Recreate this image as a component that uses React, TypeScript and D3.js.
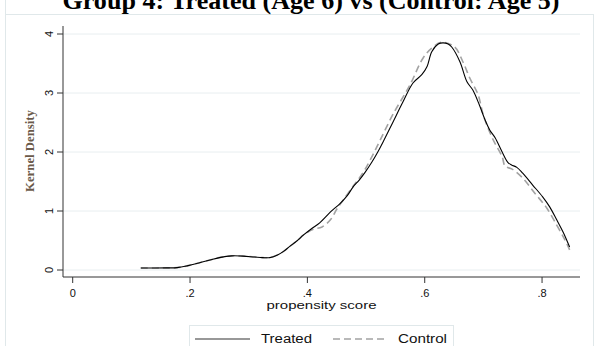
import React from "react";
import * as d3 from "d3";

const xTicks = [0, 0.2, 0.4, 0.6, 0.8];
const xTickLabels = ["0", ".2", ".4", ".6", ".8"];
const yTicks = [0, 1, 2, 3, 4];

const treatedX = [0.116, 0.14, 0.16, 0.178, 0.195, 0.215, 0.234, 0.25, 0.271, 0.29, 0.31, 0.324, 0.336, 0.35, 0.36, 0.37, 0.383, 0.393, 0.407, 0.421, 0.439, 0.456, 0.468, 0.478, 0.488, 0.498, 0.51, 0.52, 0.529, 0.546, 0.563, 0.58, 0.595, 0.604, 0.612, 0.623, 0.631, 0.64, 0.646, 0.66, 0.672, 0.682, 0.693, 0.703, 0.711, 0.72, 0.732, 0.742, 0.748, 0.757, 0.767, 0.784, 0.801, 0.813, 0.825, 0.836, 0.847];
const treatedY = [0.035, 0.035, 0.036, 0.04, 0.07, 0.12, 0.17, 0.21, 0.24, 0.235, 0.22, 0.21, 0.21, 0.26, 0.32, 0.4, 0.5, 0.59, 0.7, 0.8, 0.98, 1.13, 1.26, 1.41, 1.52, 1.65, 1.83, 2.0, 2.17, 2.51, 2.85, 3.17, 3.31, 3.45, 3.7, 3.83, 3.85, 3.83, 3.78, 3.53, 3.19, 3.05, 2.8, 2.54, 2.37, 2.24, 2.0, 1.82, 1.78, 1.74, 1.64, 1.44, 1.24, 1.07, 0.85, 0.64, 0.39];

const controlX = [0.116, 0.14, 0.16, 0.178, 0.195, 0.215, 0.234, 0.25, 0.271, 0.29, 0.31, 0.324, 0.336, 0.35, 0.36, 0.37, 0.383, 0.393, 0.41, 0.425, 0.44, 0.45, 0.46, 0.478, 0.488, 0.498, 0.51, 0.524, 0.546, 0.575, 0.597, 0.612, 0.629, 0.651, 0.665, 0.677, 0.691, 0.70, 0.716, 0.732, 0.737, 0.749, 0.767, 0.787, 0.808, 0.825, 0.839, 0.847];
const controlY = [0.035, 0.035, 0.036, 0.04, 0.07, 0.12, 0.17, 0.21, 0.24, 0.235, 0.22, 0.21, 0.21, 0.26, 0.32, 0.4, 0.5, 0.59, 0.69, 0.73, 0.86, 1.03, 1.17, 1.42, 1.55, 1.7, 1.92, 2.2, 2.64, 3.14, 3.59, 3.76, 3.86, 3.78, 3.53, 3.25, 2.97, 2.62, 2.22, 1.92, 1.76, 1.71, 1.56, 1.31, 1.05, 0.76, 0.51, 0.34];

const title = "Group 4: Treated  (Age 6) vs (Control: Age 5)";
const xLabel = "propensity score";
const yLabel = "Kernel Density";
const seriesNames = ["Treated", "Control"];

export default function App() {
  const x = d3.scaleLinear().domain([0, 0.8]).range([72.7, 72.7 + 0.8 * 586.7]);
  const y = d3.scaleLinear().domain([0, 4]).range([270, 34]);
  const plotLeft = 63;
  const plotRight = 580;
  const axisY = 277;

  const line = d3
    .line<[number, number]>()
    .x((d) => x(d[0]))
    .y((d) => y(d[1]))
    .curve(d3.curveCatmullRom.alpha(0.5));

  const treated = treatedX.map((v, i) => [v, treatedY[i]] as [number, number]);
  const control = controlX.map((v, i) => [v, controlY[i]] as [number, number]);

  const sans = "'Liberation Sans', Arial, sans-serif";
  const serif = "'Liberation Serif', 'Times New Roman', serif";

  return (
    <svg
      width={595}
      height={346}
      style={{ position: "absolute", left: 0, top: 0, background: "#fff" }}
    >
      <rect x={0} y={0} width={595} height={346} fill="#fff" />
      {/* outer frame */}
      <line x1={5.5} x2={5.5} y1={0} y2={346} stroke="#e0e8ea" strokeWidth={1} />
      <rect x={5.5} y={14.5} width={588} height={345} fill="none" stroke="#e0e8ea" strokeWidth={1} />

      {/* title */}
      <text
        x={311}
        y={9}
        textAnchor="middle"
        fontFamily={serif}
        fontWeight="bold"
        fontSize={25}
        textLength={497}
        lengthAdjust="spacingAndGlyphs"
        fill="#000"
      >
        {title}
      </text>

      {/* gridlines */}
      {yTicks.map((t) => (
        <line
          key={"g" + t}
          x1={plotLeft}
          x2={plotRight}
          y1={y(t)}
          y2={y(t)}
          stroke="#e8eef0"
          strokeWidth={1}
        />
      ))}

      {/* y axis */}
      <line x1={plotLeft} x2={plotLeft} y1={26} y2={axisY} stroke="#333" strokeWidth={1} />
      {yTicks.map((t) => (
        <g key={"yt" + t}>
          <line x1={57} x2={plotLeft} y1={y(t)} y2={y(t)} stroke="#333" strokeWidth={1} />
          <text
            transform={`translate(53,${y(t)}) rotate(-90)`}
            textAnchor="middle"
            fontFamily={sans}
            fontSize={11}
            fill="#111"
          >
            {String(t)}
          </text>
        </g>
      ))}
      <text
        transform={`translate(34,151) rotate(-90)`}
        textAnchor="middle"
        fontFamily={serif}
        fontWeight="bold"
        fontSize={12}
        textLength={82}
        lengthAdjust="spacingAndGlyphs"
        fill="#6b5a4a"
      >
        {yLabel}
      </text>

      {/* x axis */}
      <line x1={plotLeft} x2={plotRight} y1={axisY} y2={axisY} stroke="#333" strokeWidth={1} />
      {xTicks.map((t, i) => (
        <g key={"xt" + t}>
          <line x1={x(t)} x2={x(t)} y1={axisY} y2={axisY + 6} stroke="#333" strokeWidth={1} />
          <text
            x={x(t)}
            y={297}
            textAnchor="middle"
            fontFamily={sans}
            fontSize={11}
            fill="#111"
          >
            {xTickLabels[i]}
          </text>
        </g>
      ))}
      <text
        x={321.5}
        y={308.5}
        textAnchor="middle"
        fontFamily={sans}
        fontSize={11}
        textLength={110}
        lengthAdjust="spacingAndGlyphs"
        fill="#111"
      >
        {xLabel}
      </text>

      {/* curves */}
      <path d={line(control) || ""} fill="none" stroke="#a3a3a3" strokeWidth={1.6} strokeDasharray="7 4" />
      <path d={line(treated) || ""} fill="none" stroke="#000" strokeWidth={1.1} />

      {/* legend */}
      <rect x={189.5} y={325.5} width={264} height={28} fill="#fff" stroke="#e0e8ea" strokeWidth={1} />
      <line x1={195} x2={250} y1={339} y2={339} stroke="#333" strokeWidth={1.1} />
      <text x={261} y={343} fontFamily={sans} fontSize={12} textLength={51} lengthAdjust="spacingAndGlyphs" fill="#111">
        {seriesNames[0]}
      </text>
      <line x1={333} x2={388} y1={339} y2={339} stroke="#a3a3a3" strokeWidth={1.6} strokeDasharray="7 4" />
      <text x={398} y={343} fontFamily={sans} fontSize={12} textLength={49} lengthAdjust="spacingAndGlyphs" fill="#111">
        {seriesNames[1]}
      </text>
    </svg>
  );
}
